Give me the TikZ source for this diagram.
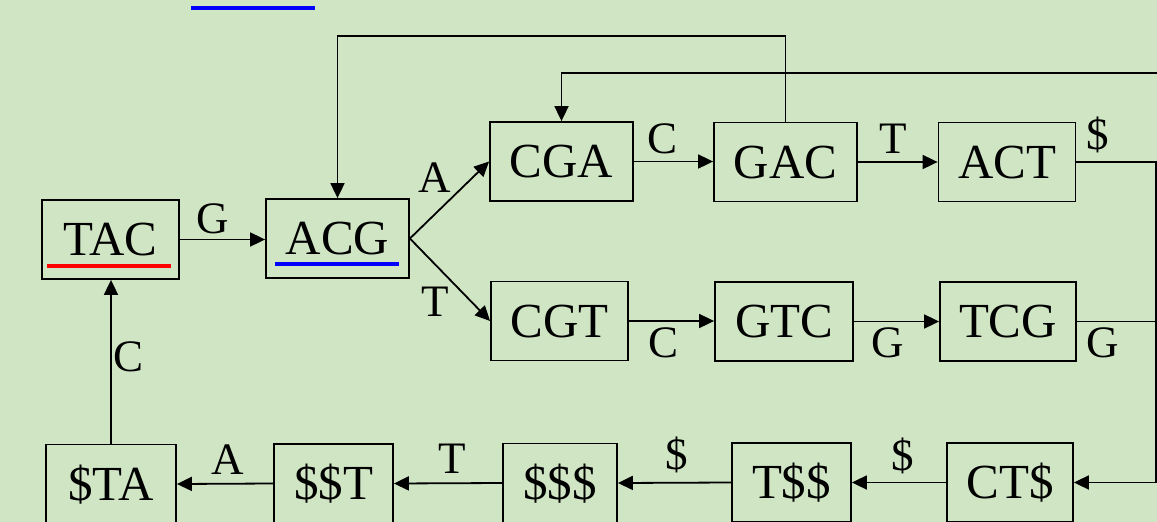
\documentclass[tikz,border=0pt]{standalone}
\usepackage{fontspec}
\setmainfont{Liberation Serif}
\usetikzlibrary{arrows.meta,calc}
\definecolor{ink}{HTML}{000000}
\definecolor{bgreen}{HTML}{CFE5C4}
\definecolor{ured}{HTML}{FF0000}
\definecolor{ublue}{HTML}{0000FF}

\begin{document}
\begin{tikzpicture}[
    x=1pt, y=-1pt,
    >={Triangle[length=15pt,width=14pt]},
    line cap=butt, line join=miter,
    seq/.style={draw=ink, line width=1.8pt, inner sep=0pt, minimum height=79pt,
                text height=32pt, text depth=0pt,
                font=\fontsize{49}{49}\selectfont},
    edge/.style={ink, line width=1.8pt},
    lbl/.style={inner sep=0pt, font=\fontsize{45}{45}\selectfont},
    uline/.style={line width=4.5pt},
]

% ============================================================
% Frame and background
% ============================================================
\useasboundingbox (0,0) rectangle (1157,522);
\clip (0,0) rectangle (1157,522);
\fill[bgreen] (0,0) rectangle (1157,522);

\def\Rx{1156}

% ============================================================
% k-mer boxes
% ============================================================
% upper rows
\node[seq, minimum width=137pt] (TAC) at (110.5,239.5) {TAC};
\node[seq, minimum width=143pt] (ACG) at (337.5,238.5) {ACG};
\node[seq, minimum width=143pt] (CGA) at (561.5,161.5) {CGA};
\node[seq, minimum width=143pt] (GAC) at (785.5,162) {GAC};
\node[seq, minimum width=137pt] (ACT) at (1007,162) {ACT};
\node[seq, minimum width=137pt] (CGT) at (559.5,321) {CGT};
\node[seq, minimum width=138pt] (GTC) at (784,321.5) {GTC};
\node[seq, minimum width=136pt] (TCG) at (1008,321.5) {TCG};

% bottom row (cut by the lower edge)
\node[seq, minimum width=130pt] (STA) at (111,484) {\$TA};
\node[seq, minimum width=119pt] (SST) at (333.5,483.5) {\$\$T};
\node[seq, minimum width=114pt] (SSS) at (560,483) {\$\$\$};
\node[seq, minimum width=119pt] (TSS) at (791.5,482.5) {T\$\$};
\node[seq, minimum width=126pt] (CTS) at (1010,482.5) {CT\$};

% underlines + top mark
\draw[uline, ured]  (47,266) -- (171,266);
\draw[uline, ublue] (275,264) -- (399,264);
\draw[uline, ublue] (191,8) -- (315,8);

% ============================================================
% Connectors
% ============================================================
\coordinate (Rtop)  at (\Rx,162);
\coordinate (Rbot)  at (\Rx,482.5);
\coordinate (loopA) at (0,36);
\coordinate (loopB) at (1160,73);

\draw[edge,->] (TAC.east) -- (TAC.east -| ACG.west);
\draw[edge,->] (ACG.east) -- (CGA.west);
\draw[edge,->] (ACG.east) -- (CGT.west);
\draw[edge,->] (CGA.east) -- (CGA.east -| GAC.west);
\draw[edge,->] (GAC.east) -- (ACT.west);
\draw[edge,->] (CGT.east) -- (CGT.east -| GTC.west);
\draw[edge,->] (GTC.east) -- (TCG.west);

% right side, down to the bottom row
\draw[edge,->] (ACT.east) -- (Rtop) -- (Rbot) -- (CTS.east);
\draw[edge] (TCG.east) -- (TCG.east -| Rtop);

% loops over the top
\draw[edge,->] (GAC.north) -- (GAC.north |- loopA) -| (ACG.north);
\draw[edge,->] (loopB) -| (CGA.north);

% bottom row, right to left
\draw[edge,->] (CTS.west) -- (TSS.east);
\draw[edge,->] (TSS.west) -- (SSS.east);
\draw[edge,->] (SSS.west) -- (SST.east);
\draw[edge,->] (SST.west) -- (STA.east);
\draw[edge,->] (STA.north) -- (STA.north |- TAC.south);

% ============================================================
% Edge letters
% ============================================================
\node[lbl] (lG)  at (213,219) {G};
\node[lbl] (lA)  at (435,178) {A};
\node[lbl] (lT)  at (435,302) {T};
\node[lbl] (lC1) at (663,139) {C};
\node[lbl] (lT1) at (893,139) {T};
\node[lbl] (lS1) at (1098,135) {\$};
\node[lbl] (lC2) at (664,343) {C};
\node[lbl] (lG2) at (888,343) {G};
\node[lbl] (lG3) at (1103,343) {G};
\node[lbl] (lC3) at (129,357) {C};
\node[lbl] (lA2) at (228,460) {A};
\node[lbl] (lT2) at (452,459) {T};
\node[lbl] (lS2) at (677,455) {\$};
\node[lbl] (lS3) at (903,456) {\$};

\end{tikzpicture}
\end{document}
